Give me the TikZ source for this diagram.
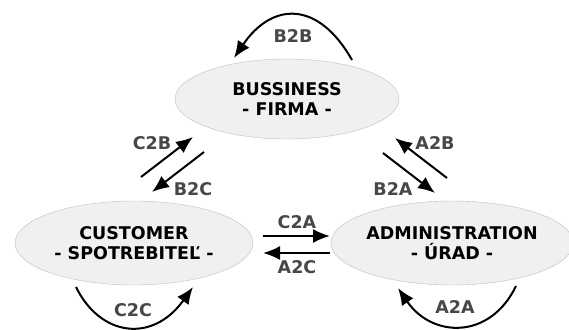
\documentclass[tikz,border=0pt]{standalone}
\usepackage{fontspec}
\setmainfont{DejaVu Sans}
\usetikzlibrary{shapes.geometric,arrows.meta}

\begin{document}
\begin{tikzpicture}[x=1pt, y=-1pt, font=\fontsize{17.5}{20}\selectfont\bfseries,
    party/.style={draw=gray!50, fill=gray!12, ellipse, align=center, inner sep=0pt},
    flow/.style={line width=2pt, -{Latex[length=17pt,width=14pt]}},
    tag/.style={text=black!72, inner sep=1pt}]
  \useasboundingbox (0,0) rectangle (569,329);

  % the three parties
  \node (Business) [party, minimum width=224pt, minimum height=80pt] at (287,99) {BUSSINESS\\- FIRMA -};
  \node (Customer) [party, minimum width=238pt, minimum height=84pt] at (134,243) {CUSTOMER\\- SPOTREBITEĽ -};
  \node (Admin) [party, minimum width=230pt, minimum height=84pt] at (452,243) {ADMINISTRATION\\- ÚRAD -};

  % arrow ends
  \coordinate (bbFrom) at (352,60);  \coordinate (bbTo) at (234,58);
  \coordinate (cbFrom) at (141,177); \coordinate (cbTo) at (193,137);
  \coordinate (bcFrom) at (204,152); \coordinate (bcTo) at (152,192);
  \coordinate (abFrom) at (447,178); \coordinate (abTo) at (395,138);
  \coordinate (baFrom) at (383,153); \coordinate (baTo) at (435,193);
  \coordinate (caFrom) at (263,236); \coordinate (caTo) at (330,236);
  \coordinate (acFrom) at (330,253); \coordinate (acTo) at (263,253);
  \coordinate (ccFrom) at (76,287);  \coordinate (ccTo) at (193,287);
  \coordinate (aaFrom) at (516,286); \coordinate (aaTo) at (398,288);

  \draw [flow] (bbFrom) .. controls (318,0) and (272,2) .. (bbTo);
  \draw [flow] (cbFrom) -- (cbTo);
  \draw [flow] (bcFrom) -- (bcTo);
  \draw [flow] (abFrom) -- (abTo);
  \draw [flow] (baFrom) -- (baTo);
  \draw [flow] (caFrom) -- (caTo);
  \draw [flow] (acFrom) -- (acTo);
  \draw [flow] (ccFrom) .. controls (100,336) and (152,344) .. (ccTo);
  \draw [flow] (aaFrom) .. controls (490,340) and (432,338) .. (aaTo);

  % labels
  \node (B2B) [tag] at (293,36) {B2B};
  \node (C2B) [tag] at (152,143) {C2B};
  \node (B2C) [tag] at (193,189) {B2C};
  \node (A2B) [tag] at (435,143) {A2B};
  \node (B2A) [tag] at (393,189) {B2A};
  \node (C2A) [tag] at (297,222) {C2A};
  \node (A2C) [tag] at (297,267) {A2C};
  \node (C2C) [tag] at (133,310) {C2C};
  \node (A2A) [tag] at (455,307) {A2A};
\end{tikzpicture}
\end{document}
